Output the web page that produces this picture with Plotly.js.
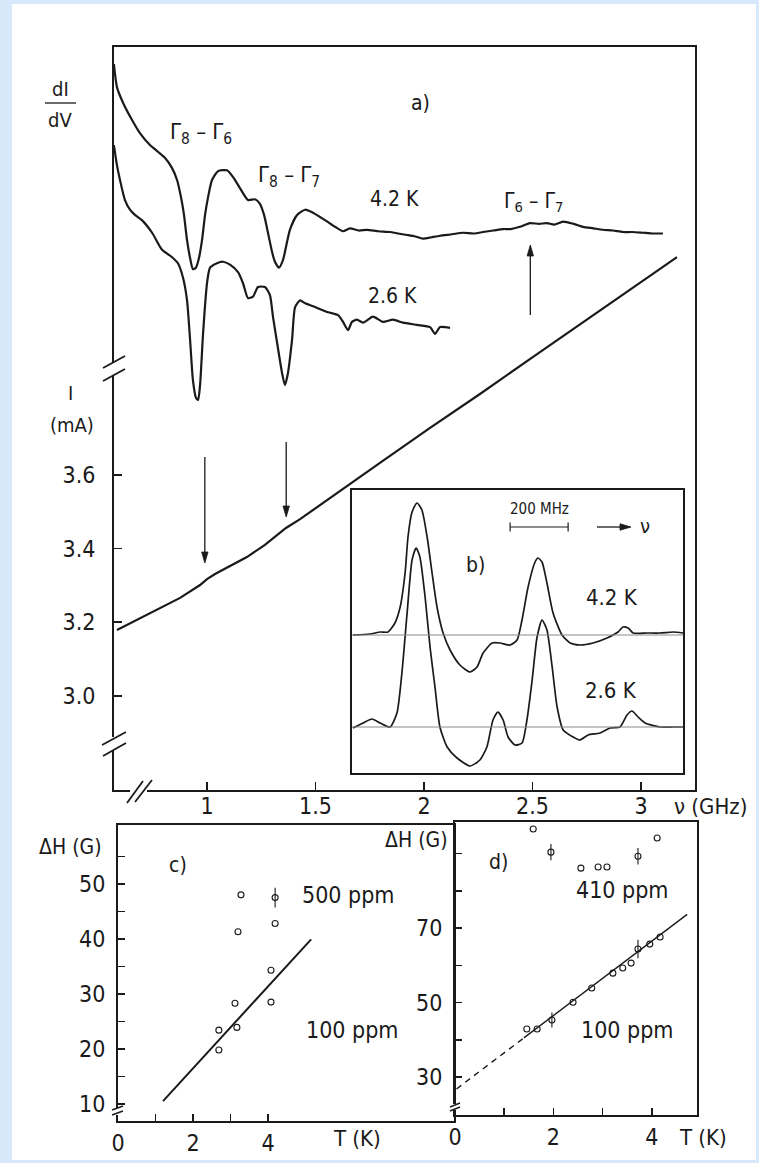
<!DOCTYPE html>
<html>
<head>
<meta charset="utf-8">
<script src="https://cdn.plot.ly/plotly-3.0.1.min.js"></script>
<style>
  html, body { margin: 0; padding: 0; background: #d7e8fb; }
  #fig { width: 759px; height: 1163px; }
</style>
</head>
<body>
<div id="fig"></div>
<script>
// ---------- a) tunnelling spectra: dI/dV (arb. units) vs frequency (GHz) ----------
const nu42 = [0.571,0.585,0.613,0.654,0.691,0.737,0.774,0.806,0.839,0.862,0.880,0.894,0.908,0.922,0.935,0.949,0.963,0.977,0.991,1.005,1.023,1.051,1.092,1.120,1.152,1.189,1.221,1.244,1.263,1.281,1.300,1.313,1.332,1.350,1.382,1.415,1.452,1.488,1.544,1.590,1.627,1.659,1.700,1.737,1.790,1.843,1.880,1.922,1.960,1.995,2.035,2.074,2.130,2.180,2.230,2.272,2.320,2.364,2.400,2.442,2.488,2.530,2.567,2.600,2.641,2.690,2.733,2.780,2.825,2.870,2.917,2.960,3.009,3.055,3.101];
const dIdV42 = [9.77,9.46,9.25,9.02,8.84,8.68,8.59,8.51,8.37,8.21,7.98,7.74,7.40,7.16,7.01,7.03,7.16,7.40,7.74,7.98,8.21,8.33,8.34,8.25,8.10,7.94,7.95,7.89,7.74,7.50,7.24,7.11,7.03,7.13,7.54,7.74,7.81,7.77,7.67,7.58,7.52,7.56,7.53,7.54,7.52,7.51,7.49,7.47,7.45,7.42,7.44,7.46,7.48,7.50,7.49,7.51,7.53,7.55,7.55,7.58,7.63,7.62,7.63,7.61,7.65,7.62,7.58,7.56,7.54,7.53,7.51,7.51,7.50,7.49,7.49];

const nu26 = [0.571,0.585,0.599,0.622,0.645,0.668,0.700,0.747,0.793,0.839,0.866,0.889,0.908,0.922,0.935,0.949,0.959,0.968,0.982,1.000,1.014,1.046,1.074,1.106,1.143,1.166,1.189,1.212,1.235,1.267,1.290,1.304,1.323,1.346,1.359,1.373,1.392,1.406,1.429,1.452,1.498,1.558,1.604,1.627,1.650,1.668,1.691,1.719,1.765,1.811,1.857,1.903,1.968,2.028,2.051,2.074,2.120];
const dIdV26 = [8.68,8.41,8.21,7.94,7.81,7.74,7.67,7.50,7.27,7.17,7.09,6.90,6.59,6.06,5.52,5.28,5.25,5.45,6.15,6.82,7.03,7.09,7.11,7.07,6.97,6.82,6.62,6.64,6.77,6.77,6.66,6.37,6.02,5.61,5.45,5.61,6.06,6.50,6.59,6.55,6.50,6.43,6.39,6.30,6.19,6.30,6.33,6.29,6.37,6.30,6.33,6.29,6.26,6.23,6.14,6.23,6.22];

// current through the junction (mA)
const nuI = [0.585,0.737,0.876,0.968,1.000,1.037,1.106,1.184,1.267,1.364,1.429,1.567,1.797,2.028,2.258,2.488,2.719,2.949,3.166];
const currentMA = [3.179,3.225,3.266,3.301,3.317,3.331,3.353,3.377,3.410,3.456,3.480,3.538,3.633,3.728,3.820,3.915,4.010,4.103,4.192];

const nuTicks = [1, 1.5, 2, 2.5, 3];
const nuTickText = ['1', '1.5', '2', '2.5', '3'];
const iTicks = [3.0, 3.2, 3.4, 3.6];
const iTickText = ['3.0', '3.2', '3.4', '3.6'];

// marked transitions: arrows at these frequencies (GHz)
const arrowNuDown = [0.99, 1.365];
const arrowNuUp = [2.49];

// ---------- b) inset: EPR-like lines, frequency offset in MHz ----------
const fInset42 = [3,62,97,124,148,166,183,193,207,224,241,259,276,293,314,338,372,407,431,452,483,510,545,569,586,607,631,641,655,672,693,724,752,786,831,879,917,934,952,969,1017,1062,1107,1141];
const sInset42 = [0,0.1,0.3,0.3,1.2,2.8,6.2,9.8,12.3,13.2,12.5,9.8,6.2,2.8,0.2,-1.5,-3.0,-3.7,-3.2,-1.8,-0.8,-0.8,-1.0,-0.5,1.5,4.8,7.3,7.7,7.3,5.2,2.2,0,-0.8,-1.0,-0.8,-0.3,0.3,0.8,0.7,0.2,0.2,0.2,0.3,0.2];
const fInset26 = [3,38,69,97,131,155,172,190,207,221,234,252,269,286,303,328,362,407,441,465,486,503,521,538,562,586,603,621,638,655,672,690,707,728,762,786,814,855,890,924,948,965,986,1010,1062,1107,1141];
const sInset26 = [-0.1,0.4,0.8,0.4,0,1.4,5.4,11.4,16.7,17.9,17.0,13.0,8.0,4.0,0,-2.0,-3.1,-3.9,-3.3,-2.0,0.7,1.5,0.7,-1.0,-1.8,-1.6,0.7,4.7,9.0,10.7,9.7,6.0,2.0,-0.3,-1.0,-1.3,-0.8,-0.6,-0.1,0,1.2,1.6,1.0,0.4,0,0,0];
const scaleBarMHz = [545, 745];   // 200 MHz

// ---------- c) line width vs temperature ----------
const cT500 = [3.28, 3.20, 4.19];
const cH500 = [48.0, 41.3, 42.8];
const cT500err = [4.19];
const cH500err = [47.5];
const cErr500 = [1.8];
const cT100 = [4.08, 3.12, 4.08, 2.69, 3.17, 2.69];
const cH100 = [34.3, 28.3, 28.5, 23.4, 23.9, 19.8];
const cFitT = [1.2, 5.15];
const cFitH = [10.5, 39.9];

// ---------- d) line width vs temperature ----------
const dT410 = [1.59, 2.56, 2.91, 3.09, 4.11];
const dH410 = [96.6, 86.1, 86.4, 86.4, 94.2];
const dT410err = [1.95, 3.72];
const dH410err = [90.4, 89.3];
const dErr410 = [2.2, 2.2];
const dT100 = [1.46, 1.67, 2.40, 2.78, 3.21, 3.41, 3.58, 3.96, 4.17];
const dH100 = [42.9, 42.9, 50.1, 53.9, 57.9, 59.3, 60.6, 65.7, 67.6];
const dT100err = [1.97, 3.72];
const dH100err = [45.3, 64.4];
const dErr100 = [2.0, 2.5];
const dFitT = [1.4, 4.72];
const dFitH = [40.5, 73.7];
const dExtT = [0.03, 1.4];
const dExtH = [26.8, 40.5];

// ---------- drawing ----------
const W = 759, H = 1163;
const px = x => x / W;
const py = y => 1 - y / H;
const INK = '#1a1a1a';
const FONT = "'DejaVu Sans Condensed', 'DejaVu Sans', sans-serif";
const base42 = 13.8, base26 = 4.6;   // inset baselines (arb. units)

const curve = (x, y, xa, ya, w, shape) => ({
  x, y, xaxis: xa, yaxis: ya, type: 'scatter', mode: 'lines',
  line: { color: INK, width: w, shape: shape || 'spline', smoothing: 0.6 },
  hoverinfo: 'skip', showlegend: false
});
const dots = (x, y, xa, ya, err) => {
  const t = {
    x, y, xaxis: xa, yaxis: ya, type: 'scatter', mode: 'markers',
    marker: { symbol: 'circle-open', size: 6, color: INK, line: { width: 1.1, color: INK } },
    hoverinfo: 'skip', showlegend: false
  };
  if (err) t.error_y = { type: 'data', array: err, visible: true, width: 0, thickness: 1.1, color: INK };
  return t;
};

const traces = [
  curve(nu42, dIdV42, 'x', 'y2', 2.2),
  curve(nu26, dIdV26, 'x', 'y2', 2.2),
  curve(nuI, currentMA, 'x', 'y', 2.2, 'linear'),
  curve(fInset42, sInset42.map(v => v + base42), 'x3', 'y3', 1.7),
  curve(fInset26, sInset26.map(v => v + base26), 'x3', 'y3', 1.7),
  curve(cFitT, cFitH, 'x4', 'y4', 2, 'linear'),
  dots(cT500, cH500, 'x4', 'y4'),
  dots(cT500err, cH500err, 'x4', 'y4', cErr500),
  dots(cT100, cH100, 'x4', 'y4'),
  curve(dFitT, dFitH, 'x5', 'y5', 1.4, 'linear'),
  Object.assign(curve(dExtT, dExtH, 'x5', 'y5', 1.4, 'linear'), { line: { color: INK, width: 1.4, dash: '6px,5px' } }),
  dots(dT410, dH410, 'x5', 'y5'),
  dots(dT410err, dH410err, 'x5', 'y5', dErr410),
  dots(dT100, dH100, 'x5', 'y5'),
  dots(dT100err, dH100err, 'x5', 'y5', dErr100)
];

const axBase = {
  showline: true, mirror: true, linecolor: INK, linewidth: 2,
  showgrid: false, zeroline: false, fixedrange: true,
  ticks: 'inside', ticklen: 8, tickwidth: 1.6, tickcolor: INK,
  tickfont: { family: FONT, size: 23, color: INK }
};
const minorTicks = vals => ({ tickvals: vals, ticks: 'inside', ticklen: 7, tickwidth: 1.4, tickcolor: INK, showgrid: false });

const layout = {
  width: W, height: H,
  margin: { l: 0, r: 0, t: 0, b: 0 },
  paper_bgcolor: '#d7e8fb',
  plot_bgcolor: 'rgba(0,0,0,0)',
  showlegend: false,
  font: { family: FONT, color: INK },
  xaxis: Object.assign({}, axBase, {
    domain: [px(114), px(695)], range: [0.5714, 3.249], anchor: 'y',
    tickvals: nuTicks, ticktext: nuTickText, ticklabelstandoff: -6
  }),
  yaxis: Object.assign({}, axBase, {
    domain: [py(790), py(47)], range: [2.744, 4.763], anchor: 'x',
    tickvals: iTicks, ticktext: iTickText, ticklabelstandoff: 12
  }),
  yaxis2: { overlaying: 'y', anchor: 'x', range: [0, 10], visible: false, fixedrange: true },
  xaxis3: {
    domain: [px(352), px(683)], range: [0, 1141], anchor: 'y3',
    showline: true, mirror: true, linecolor: INK, linewidth: 1.6,
    showticklabels: false, ticks: '', showgrid: false, zeroline: false, fixedrange: true
  },
  yaxis3: {
    domain: [py(773), py(490)], range: [0, 28.3], anchor: 'x3',
    showline: true, mirror: true, linecolor: INK, linewidth: 1.6,
    showticklabels: false, ticks: '', showgrid: false, zeroline: false, fixedrange: true
  },
  xaxis4: Object.assign({}, axBase, {
    domain: [px(118), px(454)], range: [0, 8.96], anchor: 'y4', ticklen: 7,
    tickvals: [0, 2, 4], ticktext: ['0', '2', '4'], ticklabelstandoff: 0,
    minor: minorTicks([1, 3])
  }),
  yaxis4: Object.assign({}, axBase, {
    domain: [py(1121), py(825)], range: [6.88, 60.7], anchor: 'x4', ticklen: 7,
    tickvals: [10, 20, 30, 40, 50], ticktext: ['10', '20', '30', '40', '50'], ticklabelstandoff: 6,
    minor: minorTicks([15, 25, 35, 45, 55])
  }),
  xaxis5: Object.assign({}, axBase, {
    domain: [px(455), px(697)], range: [0, 4.92], anchor: 'y5', ticklen: 7,
    tickvals: [0, 2, 4], ticktext: ['0', '2', '4'], ticklabelstandoff: 0,
    minor: minorTicks([1, 3])
  }),
  yaxis5: Object.assign({}, axBase, {
    domain: [py(1115), py(822)], range: [19.8, 98.5], anchor: 'x5', ticklen: 7,
    tickvals: [30, 50, 70], ticktext: ['30', '50', '70'], ticklabelstandoff: 6,
    minor: minorTicks([40, 60, 80, 90])
  })
};

// white sheet behind the figure
const shapes = [
  { type: 'rect', xref: 'paper', yref: 'paper', x0: px(12), x1: px(756), y0: py(1160), y1: py(4),
    fillcolor: '#ffffff', line: { width: 0 }, layer: 'below' }
];
// baselines of the inset spectra
[base42, base26].forEach(b => shapes.push({
  type: 'line', xref: 'x3', yref: 'y3', x0: 0, x1: 1141, y0: b, y1: b,
  line: { color: '#8a8a8a', width: 1 }
}));
// 200 MHz scale bar
const barY = 24.6;
shapes.push({ type: 'line', xref: 'x3', yref: 'y3', x0: scaleBarMHz[0], x1: scaleBarMHz[1], y0: barY, y1: barY,
  line: { color: INK, width: 1.2 } });
scaleBarMHz.forEach(f => shapes.push({ type: 'line', xref: 'x3', yref: 'y3', x0: f, x1: f, y0: barY - 0.45, y1: barY + 0.45,
  line: { color: INK, width: 1.2 } }));

// axis breaks: gap in the axis line plus a pair of slashes
const seg = (x0, y0, x1, y1, w) => ({ type: 'line', xref: 'paper', yref: 'paper',
  x0: px(x0), y0: py(y0), x1: px(x1), y1: py(y1), line: { color: INK, width: w || 1.8 }, layer: 'above' });
const gap = (x0, y0, x1, y1) => ({ type: 'rect', xref: 'paper', yref: 'paper',
  x0: px(x0), y0: py(y0), x1: px(x1), y1: py(y1), fillcolor: '#ffffff', line: { width: 0 }, layer: 'above' });
shapes.push(gap(109, 362, 119, 375), seg(103, 368, 125, 356), seg(103, 381, 125, 369));
shapes.push(gap(109, 737, 119, 750), seg(102, 745, 126, 732), seg(103, 756, 126, 743));
shapes.push(gap(130, 786, 147, 794), seg(127, 803, 143, 781), seg(135, 802, 152, 780));
shapes.push(gap(114, 1108, 122, 1115), seg(112, 1110, 123, 1106, 1.4), seg(112, 1115, 123, 1111, 1.4));
shapes.push(gap(451, 1104, 459, 1110), seg(450, 1107, 460, 1103, 1.4), seg(450, 1111, 460, 1107, 1.4));
// fraction bar of dI/dV
shapes.push(seg(45, 103, 76, 103, 1.3));

// arrows in panel a): vertical shaft in data x, head drawn as a small filled triangle
const arrowShape = (xref, xVal, yTipPx, yTailPx) => {
  const dir = yTailPx > yTipPx ? 1 : -1;         // 1: points up, -1: points down
  const out = [{ type: 'line', xref: xref, yref: 'paper', x0: xVal, x1: xVal,
    y0: py(yTailPx), y1: py(yTipPx + dir * 9), line: { color: INK, width: 1.3 } }];
  return out;
};
const headPath = (xPx, yTipPx, dir) => {
  const yb = yTipPx + dir * 11;
  return { type: 'path', xref: 'paper', yref: 'paper',
    path: `M ${px(xPx)} ${py(yTipPx)} L ${px(xPx - 3.2)} ${py(yb)} L ${px(xPx + 3.2)} ${py(yb)} Z`,
    fillcolor: INK, line: { color: INK, width: 0.8 } };
};
const xToPx = nu => 114 + (nu - 0.5714) / (3.249 - 0.5714) * (695 - 114);
shapes.push(...arrowShape('x', arrowNuDown[0], 563, 457), headPath(xToPx(arrowNuDown[0]), 563, -1));
shapes.push(...arrowShape('x', arrowNuDown[1], 517, 442), headPath(xToPx(arrowNuDown[1]), 517, -1));
shapes.push(...arrowShape('x', arrowNuUp[0], 245, 315), headPath(xToPx(arrowNuUp[0]), 245, 1));
// "→ ν" direction arrow in the inset
shapes.push({ type: 'line', xref: 'paper', yref: 'paper', x0: px(597), x1: px(620), y0: py(527), y1: py(527),
  line: { color: INK, width: 1.3 } });
shapes.push({ type: 'path', xref: 'paper', yref: 'paper',
  path: `M ${px(631)} ${py(527)} L ${px(620)} ${py(523.8)} L ${px(620)} ${py(530.2)} Z`,
  fillcolor: INK, line: { color: INK, width: 0.8 } });
layout.shapes = shapes;

const txt = (t, x, y, size, extra) => Object.assign({
  text: t, xref: 'paper', yref: 'paper', x: px(x), y: py(y),
  xanchor: 'center', yanchor: 'middle', showarrow: false,
  font: { family: FONT, size: size, color: INK }
}, extra || {});

layout.annotations = [
  txt('dI', 60, 89, 20), txt('dV', 60, 120, 20),
  txt('I', 70, 393, 20), txt('(mA)', 72, 425, 20),
  txt('a)', 420, 103, 21),
  txt('Γ<sub>8</sub> – Γ<sub>6</sub>', 201, 133, 22),
  txt('Γ<sub>8</sub> – Γ<sub>7</sub>', 289, 176, 22),
  txt('4.2 K', 394, 199, 21),
  txt('Γ<sub>6</sub> – Γ<sub>7</sub>', 533, 202, 21),
  txt('2.6 K', 392, 296, 21),
  txt('ν (GHz)', 710, 806, 22),
  txt('200 MHz', 539, 509, 15),
  txt('ν', 645, 526, 20),
  txt('b)', 475, 565, 21),
  txt('4.2 K', 612, 597, 22),
  txt('2.6 K', 611, 690, 22),
  txt('ΔH (G)', 70, 847, 21),
  txt('c)', 178, 865, 21),
  txt('500 ppm', 348, 895, 23),
  txt('100 ppm', 352, 1030, 23),
  txt('T (K)', 357, 1138, 22),
  txt('ΔH (G)', 416, 840, 21),
  txt('d)', 498, 862, 21),
  txt('410 ppm', 622, 890, 23),
  txt('100 ppm', 627, 1030, 23),
  txt('T (K)', 703, 1137, 22)
];

Plotly.newPlot('fig', traces, layout, { staticPlot: true, displayModeBar: false });
</script>
</body>
</html>
